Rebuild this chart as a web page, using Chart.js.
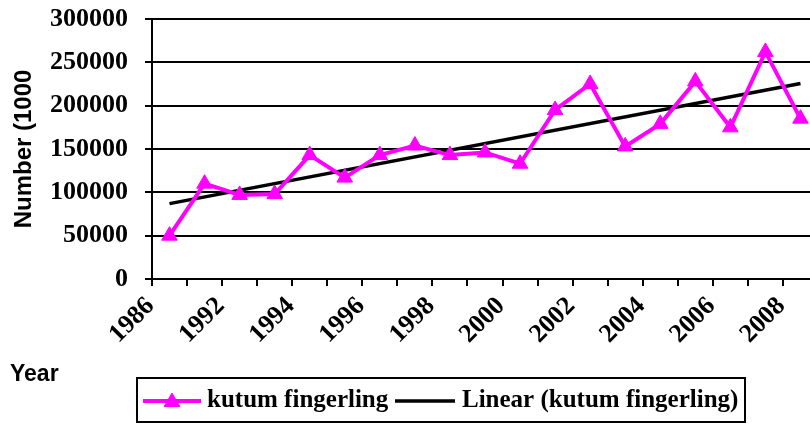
<!DOCTYPE html>
<html>
<head>
<meta charset="utf-8">
<script src="https://cdn.jsdelivr.net/npm/chart.js@4.4.1/dist/chart.umd.min.js"></script>
<style>
  html, body { margin: 0; padding: 0; background: #fff; overflow: hidden; }
  #wrap { width: 810px; height: 425px; overflow: hidden; }
</style>
</head>
<body>
<div id="wrap"><canvas id="chart" width="882" height="425"></canvas></div>
<script>
/* global Chart */

// one category per year, only every other one gets a label
var years = ['1986', '1991', '1992', '1993', '1994', '1995', '1996', '1997', '1998', '1999',
  '2000', '2001', '2002', '2003', '2004', '2005', '2006', '2007', '2008']
var fingerlings = [50000, 110000, 97000, 98000, 143000, 117000, 143000, 154000, 143000, 146000,
  133000, 195000, 225000, 153000, 179000, 228000, 175000, 262000, 185000]
// the trend line, at its two ends
var trendStart = 87000
var trendEnd = 225500
var yTicks = [0, 50000, 100000, 150000, 200000, 250000, 300000]
var seriesNames = ['kutum fingerling', 'Linear (kutum fingerling)']
var xTitle = 'Year'
var yTitle = 'Number (1000'

var trend = years.map((y, i) => {
  if (i === 0) return trendStart
  if (i === years.length - 1) return trendEnd
  return null
})

var serif = 'Liberation Serif, Times New Roman, serif'
var sans = 'Liberation Sans, Arial, sans-serif'

// legend box and the "Year" caption, drawn by hand like excel does
var legendBox = {
  id: 'legendBox',
  afterDraw (chart) {
    var ctx = chart.ctx
    var left = chart.width / 2 - 304
    ctx.save()
    ctx.strokeStyle = '#000'
    ctx.lineWidth = 2
    ctx.strokeRect(left, 378, 608, 44)

    ctx.lineWidth = 4
    ctx.strokeStyle = '#ff00ff'
    ctx.beginPath()
    ctx.moveTo(left + 6, 401)
    ctx.lineTo(left + 64, 401)
    ctx.stroke()
    ctx.fillStyle = '#ff00ff'
    ctx.lineWidth = 1
    Chart.helpers.drawPoint(ctx, { pointStyle: 'triangle', radius: 9, rotation: 0, borderWidth: 1 }, left + 35, 402)

    ctx.strokeStyle = '#000'
    ctx.lineWidth = 3.5
    ctx.beginPath()
    ctx.moveTo(left + 258, 401)
    ctx.lineTo(left + 318, 401)
    ctx.stroke()

    ctx.fillStyle = '#000'
    ctx.textBaseline = 'middle'
    ctx.font = 'bold 25px ' + serif
    ctx.fillText(seriesNames[0], left + 70, 401)
    ctx.fillText(seriesNames[1], left + 325, 401)

    ctx.font = 'bold 23px ' + sans
    ctx.fillText(xTitle, 10, 375)
    ctx.restore()
  }
}

new Chart(document.getElementById('chart'), {
  type: 'line',
  data: {
    labels: years,
    datasets: [{
      label: seriesNames[0],
      data: fingerlings,
      borderColor: '#ff00ff',
      backgroundColor: '#ff00ff',
      borderWidth: 4,
      pointStyle: 'triangle',
      pointRadius: 9,
      pointBorderWidth: 1,
      tension: 0
    }, {
      label: seriesNames[1],
      data: trend,
      spanGaps: true,
      borderColor: '#000',
      borderWidth: 3.5,
      pointRadius: 0,
      tension: 0
    }]
  },
  options: {
    responsive: false,
    animation: false,
    devicePixelRatio: 1,
    layout: { padding: { top: 19, right: 64, bottom: 0, left: 0 } },
    plugins: {
      legend: { display: false },
      tooltip: { enabled: false }
    },
    scales: {
      x: {
        offset: true,
        grid: { offset: true, drawOnChartArea: false, tickLength: 7, color: '#000', lineWidth: 2 },
        border: { display: true, color: '#000', width: 2 },
        ticks: {
          autoSkip: false,
          minRotation: 45,
          maxRotation: 45,
          padding: 5,
          labelOffset: -19,
          color: '#000',
          font: { family: serif, weight: 'bold', size: 26 },
          callback: (v, i) => (i % 2 === 0 ? years[i] : '')
        },
        afterFit: (s) => {
          s.height = 146
          s.paddingLeft = 0
          s.paddingRight = 0
        }
      },
      y: {
        min: yTicks[0],
        max: yTicks[yTicks.length - 1],
        afterBuildTicks: (s) => { s.ticks = yTicks.map(v => ({ value: v })) },
        grid: { color: '#000', lineWidth: 2, tickLength: 7 },
        border: { color: '#000', width: 2 },
        ticks: {
          padding: 17,
          color: '#000',
          font: { family: serif, weight: 'bold', size: 26 },
          callback: (v) => String(v)
        },
        title: {
          display: true,
          text: yTitle,
          color: '#000',
          font: { family: sans, weight: 'bold', size: 24 },
          padding: { top: 10, bottom: 0 }
        },
        afterFit: (s) => {
          s.width = 152
          s.paddingTop = 0
          s.paddingBottom = 0
        }
      }
    }
  },
  plugins: [legendBox]
})
</script>
</body>
</html>
